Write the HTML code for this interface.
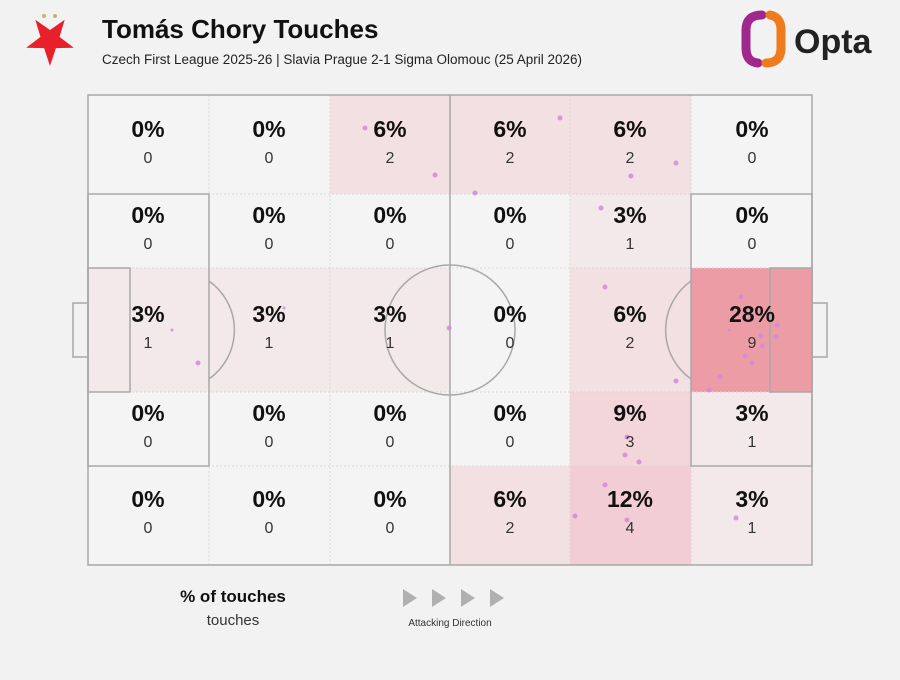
<!DOCTYPE html>
<html><head><meta charset="utf-8"><style>
body{margin:0;background:#f2f2f2;width:900px;height:675px;overflow:hidden;font-family:"Liberation Sans","DejaVu Sans",sans-serif}
</style></head><body>
<svg width="900" height="675" viewBox="0 0 900 675" xmlns="http://www.w3.org/2000/svg" font-family="Liberation Sans, DejaVu Sans, sans-serif">
<rect width="900" height="675" fill="#f2f2f2"/>
<!-- logo -->
<circle cx="44" cy="16" r="2" fill="#c9b27a"/><circle cx="55" cy="16" r="2" fill="#c9b27a"/>
<polygon points="50,66 44.1,48.1 26.2,47.7 40.5,36.9 35.3,19.8 50,30 64.7,19.8 59.5,36.9 73.8,47.7 55.9,48.1" fill="#e8202a"/>
<text x="102" y="38" font-size="26" font-weight="bold" fill="#111">Tomás Chory Touches</text>
<text x="102" y="64" font-size="13.5" fill="#222">Czech First League 2025-26 | Slavia Prague 2-1 Sigma Olomouc (25 April 2026)</text>
<path d="M762 15 Q746 15 746 30 L746 48 Q746 62 758 63" fill="none" stroke="#a0288c" stroke-width="9" stroke-linecap="round"/>
<path d="M770 15 Q781 17 781 30 L781 48 Q781 63 766 63" fill="none" stroke="#f07b1d" stroke-width="9" stroke-linecap="round"/>
<text x="794" y="53" font-size="34" font-weight="bold" fill="#222">Opta</text>
<!-- cells -->
<g>
<rect x="88" y="95" width="724" height="470" fill="#f4f4f4"/>
<rect x="330" y="95" width="120" height="99" fill="#f3e0e2"/>
<rect x="450" y="95" width="120" height="99" fill="#f3e0e2"/>
<rect x="570" y="95" width="121" height="99" fill="#f3e0e2"/>
<rect x="570" y="194" width="121" height="74" fill="#f3e9ea"/>
<rect x="88" y="268" width="121" height="124" fill="#f3e9ea"/>
<rect x="209" y="268" width="121" height="124" fill="#f3e9ea"/>
<rect x="330" y="268" width="120" height="124" fill="#f3e9ea"/>
<rect x="570" y="268" width="121" height="124" fill="#f3e0e2"/>
<rect x="691" y="268" width="121" height="124" fill="#ec9ca5"/>
<rect x="570" y="392" width="121" height="74" fill="#f3d6da"/>
<rect x="691" y="392" width="121" height="74" fill="#f3e9ea"/>
<rect x="450" y="466" width="120" height="99" fill="#f3e0e2"/>
<rect x="570" y="466" width="121" height="99" fill="#f2cdd5"/>
<rect x="691" y="466" width="121" height="99" fill="#f3e9ea"/>
</g>
<g stroke="#d8d8d8" stroke-width="1" stroke-dasharray="2,2">
<line x1="209" y1="95" x2="209" y2="565"/><line x1="330" y1="95" x2="330" y2="565"/><line x1="570" y1="95" x2="570" y2="565"/><line x1="691" y1="95" x2="691" y2="565"/>
<line x1="88" y1="194" x2="812" y2="194"/><line x1="88" y1="268" x2="812" y2="268"/><line x1="88" y1="392" x2="812" y2="392"/><line x1="88" y1="466" x2="812" y2="466"/>
</g>
<g stroke="#a8a8a8" stroke-width="1.5" fill="none">
<rect x="88" y="95" width="724" height="470"/>
<line x1="450" y1="95" x2="450" y2="565"/>
<circle cx="450" cy="330" r="65"/>
<rect x="88" y="194" width="121" height="272"/><rect x="88" y="268" width="42" height="124"/><rect x="73" y="303" width="15" height="54"/>
<rect x="691" y="194" width="121" height="272"/><rect x="770" y="268" width="42" height="124"/><rect x="812" y="303" width="15" height="54"/>
<path d="M209 281 A60 60 0 0 1 209 379"/>
<path d="M691 281 A60 60 0 0 0 691 379"/>
</g>
<g fill="#d28ad8" opacity="0.85">
<circle cx="365" cy="128" r="2.5"/><circle cx="435" cy="175" r="2.5"/><circle cx="475" cy="193" r="2.5"/><circle cx="560" cy="118" r="2.5"/><circle cx="676" cy="163" r="2.5"/><circle cx="631" cy="176" r="2.5"/><circle cx="601" cy="208" r="2.5"/><circle cx="605" cy="287" r="2.5"/><circle cx="676" cy="381" r="2.5"/>
<circle cx="172" cy="330" r="1.5"/><circle cx="198" cy="363" r="2.5"/><circle cx="284" cy="308" r="1.5"/><circle cx="449" cy="328" r="2.5"/>
<circle cx="741" cy="297" r="2.5"/><circle cx="777" cy="325" r="2.5"/><circle cx="761" cy="336" r="2.5"/><circle cx="776" cy="337" r="2.5"/><circle cx="762" cy="346" r="2.5"/><circle cx="745" cy="356" r="2.5"/><circle cx="752" cy="363" r="2.5"/><circle cx="720" cy="377" r="2.5"/><circle cx="709" cy="390" r="2.5"/><circle cx="729" cy="330" r="1.5"/>
<circle cx="627" cy="437" r="2.5"/><circle cx="625" cy="455" r="2.5"/><circle cx="639" cy="462" r="2.5"/><circle cx="605" cy="485" r="2.5"/><circle cx="575" cy="516" r="2.5"/><circle cx="627" cy="520" r="2.5"/><circle cx="736" cy="518" r="2.5"/>
</g>
<g text-anchor="middle" fill="#111">
<g font-size="23" font-weight="bold">
<text x="148" y="137">0%</text><text x="269" y="137">0%</text><text x="390" y="137">6%</text><text x="510" y="137">6%</text><text x="630" y="137">6%</text><text x="752" y="137">0%</text>
<text x="148" y="223">0%</text><text x="269" y="223">0%</text><text x="390" y="223">0%</text><text x="510" y="223">0%</text><text x="630" y="223">3%</text><text x="752" y="223">0%</text>
<text x="148" y="322">3%</text><text x="269" y="322">3%</text><text x="390" y="322">3%</text><text x="510" y="322">0%</text><text x="630" y="322">6%</text><text x="752" y="322">28%</text>
<text x="148" y="421">0%</text><text x="269" y="421">0%</text><text x="390" y="421">0%</text><text x="510" y="421">0%</text><text x="630" y="421">9%</text><text x="752" y="421">3%</text>
<text x="148" y="507">0%</text><text x="269" y="507">0%</text><text x="390" y="507">0%</text><text x="510" y="507">6%</text><text x="630" y="507">12%</text><text x="752" y="507">3%</text>
</g>
<g font-size="16" fill="#333">
<text x="148" y="163">0</text><text x="269" y="163">0</text><text x="390" y="163">2</text><text x="510" y="163">2</text><text x="630" y="163">2</text><text x="752" y="163">0</text>
<text x="148" y="249">0</text><text x="269" y="249">0</text><text x="390" y="249">0</text><text x="510" y="249">0</text><text x="630" y="249">1</text><text x="752" y="249">0</text>
<text x="148" y="348">1</text><text x="269" y="348">1</text><text x="390" y="348">1</text><text x="510" y="348">0</text><text x="630" y="348">2</text><text x="752" y="348">9</text>
<text x="148" y="447">0</text><text x="269" y="447">0</text><text x="390" y="447">0</text><text x="510" y="447">0</text><text x="630" y="447">3</text><text x="752" y="447">1</text>
<text x="148" y="533">0</text><text x="269" y="533">0</text><text x="390" y="533">0</text><text x="510" y="533">2</text><text x="630" y="533">4</text><text x="752" y="533">1</text>
</g>
<text x="233" y="602" font-size="17" font-weight="bold">% of touches</text>
<text x="233" y="625" font-size="15" fill="#333">touches</text>
<text x="450" y="626" font-size="10" fill="#333">Attacking Direction</text>
</g>
<g fill="#b0b0b0">
<polygon points="403,589 417,598 403,607"/><polygon points="432,589 446,598 432,607"/><polygon points="461,589 475,598 461,607"/><polygon points="490,589 504,598 490,607"/>
</g>
</svg>
</body></html>
